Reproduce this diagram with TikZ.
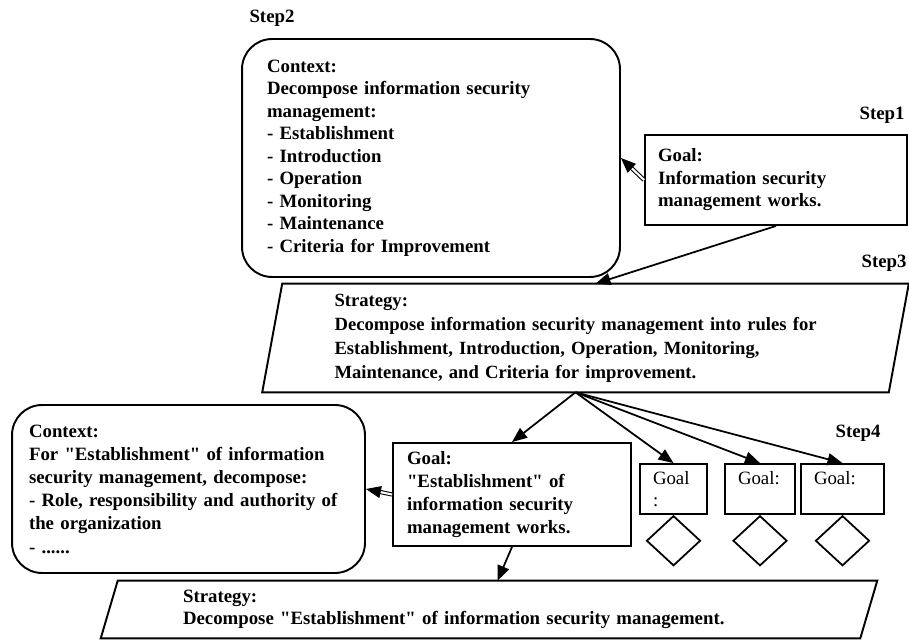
\documentclass[tikz,border=0pt]{standalone}
\usepackage{fontspec}
\setmainfont{Liberation Serif}
\usepackage{tikz}
\usetikzlibrary{positioning,arrows.meta,calc,shapes.geometric}

\newcommand{\qt}[1]{\textquotedbl#1\textquotedbl}

\begin{document}
\begin{tikzpicture}[
  x=0.02cm,
  y=-0.02cm,
  every node/.style={
    font=\bfseries\fontsize{10.7}{12.8}\selectfont,
    align=left
  },
  ctxbox/.style={
    draw,
    rounded corners=.6cm,
    line width=1.1pt,
    inner ysep=0pt
  },
  goalbox/.style={
    draw,
    line width=1.1pt,
    inner ysep=0pt
  },
  stratbox/.style={
    inner ysep=0pt
  },
  subgoal/.style={
    draw,
    line width=1pt,
    font=\mdseries\fontsize{10.7}{12.8}\selectfont,
    text width=#1,
    inner xsep=.26cm,
    inner ysep=0pt,
    minimum height=1cm
  },
  gem/.style={
    diamond,
    draw,
    line width=1pt,
    minimum width=1.08cm,
    minimum height=1cm,
    inner sep=0pt
  },
  frame/.style={
    line width=1.1pt
  },
  link/.style={
    -{Triangle[length=.3cm,width=.24cm]},
    line width=1pt
  },
  ctxlink/.style={
    -{Triangle[length=.3cm,width=.24cm]},
    double,
    double distance=1.2pt,
    line width=.6pt
  }
]

\useasboundingbox (0,0) rectangle (909,641);

% step labels
\node (st2) at (272,18) {Step2};
\node (st1) at (882,115) {Step1};
\node (st3) at (884,263) {Step3};
\node (st4) at (858,433) {Step4};

% step 1 and 2
\node[
  goalbox,
  minimum width=5.24cm,
  minimum height=1.8cm,
  inner xsep=.26cm,
  text width=4.72cm
] (g1) at (776,180)
{Goal:\\Information security\\management works.};

\node[
  ctxbox,
  minimum width=7.56cm,
  minimum height=4.76cm,
  inner xsep=.5cm,
  text width=6.56cm
] (c1) at (431,158)
{Context:\\Decompose information security\\management:\\- Establishment\\- Introduction\\- Operation\\- Monitoring\\- Maintenance\\- Criteria for Improvement};

\draw[ctxlink] (g1.west) -- (c1.east);

% step 3
\node[
  stratbox,
  font=\bfseries\fontsize{10.6}{13.6}\selectfont,
  minimum width=12.52cm,
  minimum height=2.16cm,
  inner xsep=1.24cm,
  text width=10.04cm
] (s1) at (585.5,338)
{Strategy:\\Decompose information security management into rules for\\Establishment, Introduction, Operation, Monitoring,\\Maintenance, and Criteria for improvement.};

\draw[frame]
  ([xshift=.2cm]s1.north west) -- ([xshift=.2cm]s1.north east)
  -- ([xshift=-.2cm]s1.south east) -- ([xshift=-.2cm]s1.south west)
  -- cycle;

\draw[link] (g1.south) -- ([xshift=.2cm]s1.north);

% step 4
\node[
  goalbox,
  font=\bfseries\fontsize{10.7}{13.2}\selectfont,
  minimum width=4.76cm,
  minimum height=2.06cm,
  inner xsep=.28cm,
  text width=4.2cm
] (g2) at (512,494.5)
{Goal:\\\qt{Establishment} of\\information security\\management works.};

\node[
  ctxbox,
  font=\bfseries\fontsize{10.7}{13.2}\selectfont,
  minimum width=7.06cm,
  minimum height=3.36cm,
  inner xsep=.34cm,
  text width=6.38cm
] (c2) at (188.5,489)
{Context:\\For \qt{Establishment} of information\\security management, decompose:\\- Role, responsibility and authority of\\the organization\\- ......};

\draw[ctxlink] (g2.west) -- (c2.east);

\node[subgoal=.82cm] (ga) at (673.5,489) {Goal\\:};
\node[subgoal=.88cm] (gb) at (760,489) {Goal:\\\mbox{}};
\node[subgoal=1.14cm] (gc) at (842.5,489) {Goal:\\\mbox{}};

\node[gem, below=0pt of ga] (da) {};
\node[gem, below=0pt of gb] (db) {};
\node[gem, below=0pt of gc] (dc) {};

\foreach \n in {g2,ga,gb,gc}{
  \draw[link] ([xshift=-.2cm]s1.south) -- (\n.north);
}

\node[
  stratbox,
  minimum width=15.18cm,
  minimum height=1.14cm,
  inner xsep=1.47cm,
  text width=12.24cm
] (s2) at (489,609.5)
{Strategy:\\Decompose \qt{Establishment} of information security management.};

\draw[frame]
  ([xshift=.17cm]s2.north west) -- ([xshift=.17cm]s2.north east)
  -- ([xshift=-.17cm]s2.south east) -- ([xshift=-.17cm]s2.south west)
  -- cycle;

\draw[link] (g2.south) -- ([xshift=.17cm]s2.north);

\end{tikzpicture}
\end{document}
